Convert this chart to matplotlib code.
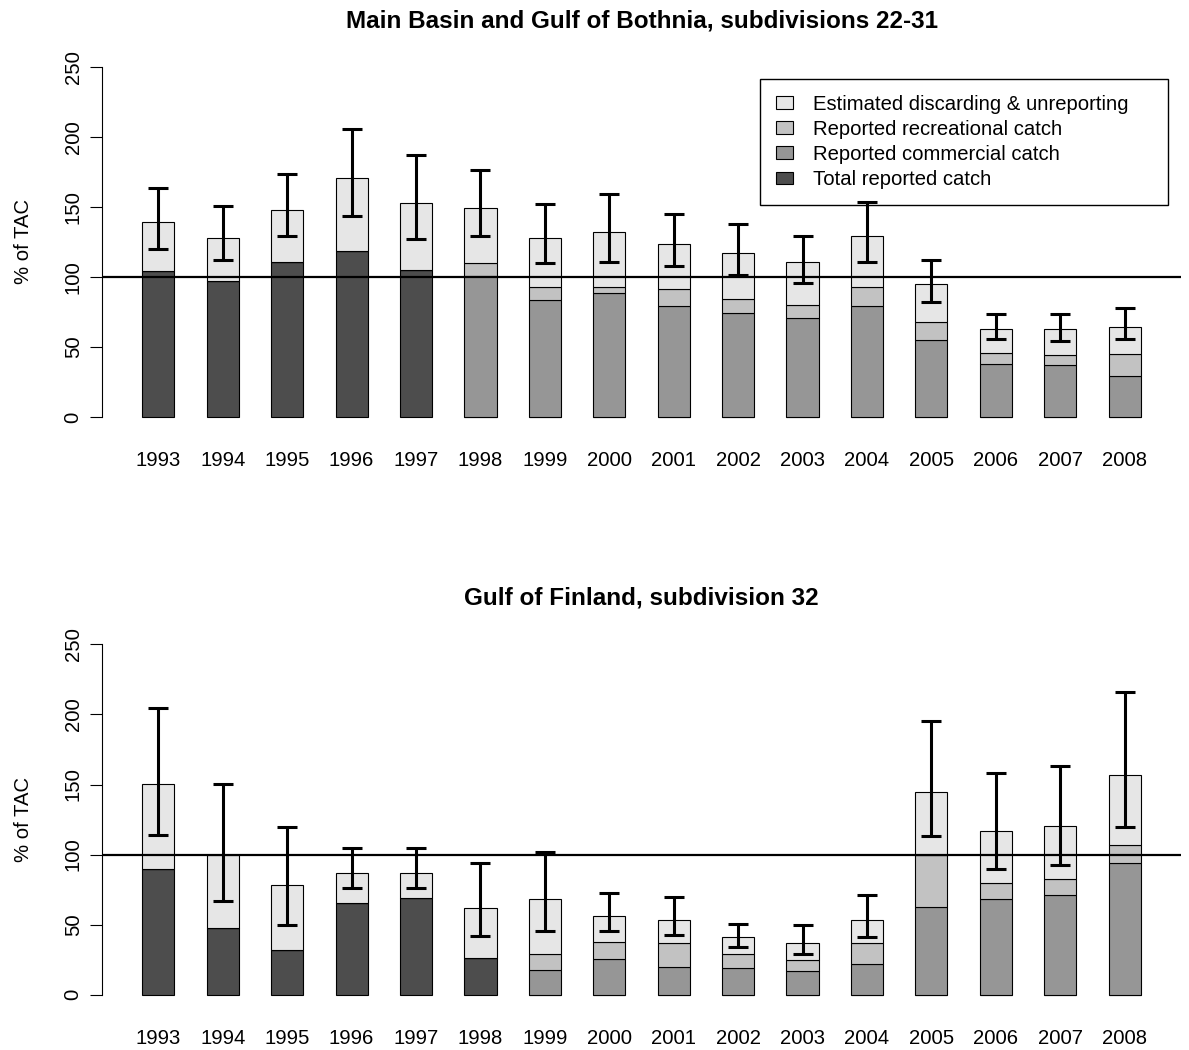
import matplotlib
matplotlib.use("Agg")
import matplotlib.pyplot as plt
from matplotlib.patches import Patch
import numpy as np

plt.rcParams["font.family"] = ["Liberation Sans", "DejaVu Sans"]

years = [str(y) for y in range(1993, 2009)]

# Main Basin and Gulf of Bothnia, SD 22-31 (% of TAC)
main_total_reported = [104, 97, 110.7, 118.6, 105, 0, 0, 0, 0, 0, 0, 0, 0, 0, 0, 0]
main_commercial = [0, 0, 0, 0, 0, 100.7, 83.8, 88.6, 79.3, 74.5, 70.9, 79, 55, 37.9, 36.9, 29.3]
main_recreational = [0, 0, 0, 0, 0, 9.1, 9.1, 4.3, 11.9, 10, 9.1, 13.9, 12.9, 7.6, 7.6, 15.5]
main_discarding = [35, 31, 36.7, 51.9, 47.9, 39.5, 35.1, 38.8, 32.6, 32.6, 30.7, 36.1, 26.9, 17.1, 18.1, 19.7]
main_err_low = [119.8, 112.4, 129, 143.8, 127, 129, 109.8, 110.7, 107.6, 101.4, 95.9, 110.7, 82.1, 55.7, 54.3, 55.7]
main_err_high = [163.6, 150.5, 173.3, 205.5, 187, 176.2, 151.9, 159.5, 144.8, 137.6, 129.3, 153.3, 111.7, 73.6, 73.6, 77.6]

# Gulf of Finland, SD 32 (% of TAC)
gof_total_reported = [90, 47.6, 32, 65.2, 69.2, 26.5, 0, 0, 0, 0, 0, 0, 0, 0, 0, 0]
gof_commercial = [0, 0, 0, 0, 0, 0, 17.5, 25.8, 20.1, 19.4, 16.8, 21.8, 62.8, 68, 71.5, 94.3]
gof_recreational = [0, 0, 0, 0, 0, 0, 11.2, 11.6, 16.6, 9.3, 8.1, 14.9, 37.2, 11.8, 11.2, 12.3]
gof_discarding = [60.7, 52.4, 46.2, 22, 18, 35.1, 39.3, 18.7, 16.6, 12.8, 11.8, 16.6, 45, 37, 37.6, 50.4]
gof_err_low = [114.2, 67, 50, 75.8, 75.8, 41.7, 45.3, 45.3, 42.4, 34.1, 28.9, 41.5, 113, 90, 92.6, 119.4]
gof_err_high = [204.9, 150.7, 119.4, 104.7, 104.7, 93.8, 101.6, 72.5, 69.9, 50.5, 49.8, 71.5, 195, 158, 163.5, 216]

labels = ["Estimated discarding & unreporting", "Reported recreational catch",
          "Reported commercial catch", "Total reported catch"]
colors = ["#E6E6E6", "#C2C2C2", "#969696", "#4D4D4D"]

W, H = 1189, 1050
fig = plt.figure(figsize=(W / 100, H / 100), dpi=100)

AX_LEFT, AX_RIGHT = 102.3, 1180.7
FS = 14.6


def draw_panel(ax, title, title_base, total, comm, rec, disc, lo, hi):
    x = np.arange(len(years))
    total = np.array(total)
    comm = np.array(comm)
    rec = np.array(rec)
    disc = np.array(disc)
    kw = dict(width=0.5, edgecolor="black", linewidth=0.8)
    ax.bar(x, total, color=colors[3], **kw)
    ax.bar(x, comm, bottom=total, color=colors[2], **kw)
    ax.bar(x, rec, bottom=total + comm, color=colors[1], **kw)
    ax.bar(x, disc, bottom=total + comm + rec, color=colors[0], **kw)

    ax.axhline(100, color="black", linewidth=1.6, zorder=3)

    lo = np.array(lo)
    hi = np.array(hi)
    mid = (lo + hi) / 2
    ax.errorbar(x, mid, yerr=[mid - lo, hi - mid], fmt="none", ecolor="black",
                elinewidth=2.2, capsize=7, capthick=2.2, zorder=6)

    ax.set_xlim(-0.87, 15.87)
    ax.set_ylim(-10, 260)
    for s in ["top", "right", "bottom"]:
        ax.spines[s].set_visible(False)
    ax.spines["left"].set_bounds(0, 250)
    ax.spines["left"].set_linewidth(0.8)
    ax.set_yticks([0, 50, 100, 150, 200, 250])
    ax.tick_params(axis="y", length=8.6, width=0.8, pad=5.5, labelsize=FS)
    for lab in ax.get_yticklabels():
        lab.set_rotation(90)
        lab.set_va("center")
    ax.set_xticks(x)
    ax.set_xticklabels(years)
    ax.tick_params(axis="x", length=0, pad=14.4, labelsize=FS)

    ax.set_ylabel("% of TAC", fontsize=FS)
    ax.yaxis.set_label_coords((32.6 - AX_LEFT) / (AX_RIGHT - AX_LEFT), 0.5)

    fig.text(641.5 / W, 1 - title_base / H, title, ha="center", va="baseline",
             fontsize=17.5, fontweight="bold")


ax1 = fig.add_axes([AX_LEFT / W, (H - 431) / H, (AX_RIGHT - AX_LEFT) / W, 378.3 / H])
draw_panel(ax1, "Main Basin and Gulf of Bothnia, subdivisions 22-31", 27.3,
           main_total_reported, main_commercial, main_recreational, main_discarding,
           main_err_low, main_err_high)

ax2 = fig.add_axes([AX_LEFT / W, (H - 1008.7) / H, (AX_RIGHT - AX_LEFT) / W, 378.3 / H])
draw_panel(ax2, "Gulf of Finland, subdivision 32", 605,
           gof_total_reported, gof_commercial, gof_recreational, gof_discarding,
           gof_err_low, gof_err_high)

handles = [Patch(facecolor=c, edgecolor="black", linewidth=0.8) for c in colors]
leg = ax1.legend(handles, labels, loc="upper left",
                 bbox_to_anchor=(760 / W, 1 - 80 / H, 407.7 / W, 0.001),
                 bbox_transform=fig.transFigure, mode="expand", borderaxespad=0,
                 fontsize=FS, handlelength=0.84, handleheight=0.58,
                 handletextpad=1.0, labelspacing=0.3, borderpad=0.78,
                 fancybox=False, framealpha=1)
leg.get_frame().set_edgecolor("black")
leg.get_frame().set_linewidth(1.0)
leg.set_zorder(5)

fig.savefig("out.png", dpi=100)
